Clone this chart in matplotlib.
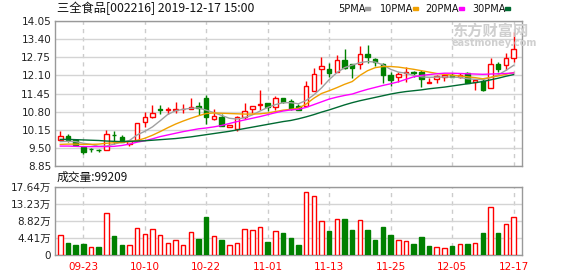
import numpy as np
import matplotlib.pyplot as plt

# 三全食品 daily K-line, 2019-09-18 .. 2019-12-17 (60 trading days)
opens = [9.78, 9.91, 9.78, 9.53, 9.45, 9.42, 9.43, 9.97, 9.90, 9.64,
         9.76, 10.44, 10.62, 10.89, 10.86, 10.86, 10.89, 10.91, 11.00, 11.29,
         10.55, 10.59, 10.25, 10.19, 10.62, 10.88, 11.03, 11.12, 10.98, 11.30,
         11.18, 11.00, 11.00, 11.55, 12.32, 12.33, 12.21, 12.65, 12.51, 12.51,
         12.87, 12.68, 12.51, 12.11, 12.03, 12.18, 12.21, 12.24, 11.84, 11.96,
         12.06, 12.11, 12.06, 12.20, 11.88, 11.91, 11.64, 12.52, 12.47, 12.71]
highs = [10.10, 10.00, 9.83, 9.53, 9.50, 9.47, 10.12, 10.10, 9.97, 9.79,
         10.40, 10.77, 11.02, 11.03, 10.95, 11.16, 11.06, 11.30, 11.16, 11.40,
         10.88, 10.71, 10.33, 10.64, 11.12, 11.00, 11.58, 11.12, 11.37, 11.30,
         11.27, 11.07, 11.90, 12.38, 12.77, 12.53, 12.83, 13.05, 12.51, 13.16,
         13.19, 12.74, 12.53, 12.23, 12.23, 12.39, 12.26, 12.30, 12.02, 12.12,
         12.12, 12.20, 12.18, 12.24, 11.94, 12.00, 12.71, 12.57, 12.89, 13.67]
lows = [9.78, 9.69, 9.56, 9.28, 9.33, 9.36, 9.41, 9.65, 9.72, 9.56,
        9.73, 10.26, 10.57, 10.70, 10.71, 10.74, 10.74, 10.91, 10.68, 10.37,
        10.49, 10.29, 10.23, 10.11, 10.52, 10.74, 10.86, 10.83, 10.86, 11.10,
        10.85, 10.85, 11.00, 11.55, 11.78, 12.05, 12.21, 12.32, 12.02, 12.32,
        12.53, 12.44, 11.84, 11.72, 11.88, 11.88, 12.05, 11.70, 11.84, 11.84,
        11.91, 12.05, 12.00, 11.84, 11.58, 11.55, 11.64, 12.24, 12.29, 12.59]
closes = [9.93, 9.79, 9.60, 9.36, 9.44, 9.41, 9.99, 9.96, 9.72, 9.75,
          10.40, 10.60, 10.74, 10.87, 10.88, 10.90, 10.91, 10.97, 10.94, 10.59,
          10.64, 10.29, 10.30, 10.59, 10.82, 11.00, 11.09, 10.98, 11.28, 11.14,
          10.91, 10.85, 11.73, 12.14, 12.44, 12.19, 12.64, 12.38, 12.36, 12.87,
          12.77, 12.57, 12.11, 11.94, 12.15, 12.21, 12.20, 11.96, 11.87, 12.08,
          12.11, 12.06, 12.11, 11.84, 11.94, 11.58, 12.50, 12.33, 12.74, 13.05]

# volume in 万 shares
volume = [5.14, 3.08, 2.57, 2.83, 1.97, 2.06, 10.79, 4.88, 2.57, 2.48,
          6.85, 5.31, 6.59, 5.05, 3.00, 3.85, 2.48, 5.82, 4.11, 9.76,
          4.80, 3.94, 2.48, 3.00, 6.59, 6.34, 7.11, 3.34, 6.17, 5.65,
          4.37, 2.57, 16.35, 15.33, 8.73, 6.17, 9.42, 9.25, 6.51, 9.16,
          6.51, 3.94, 7.19, 5.14, 3.85, 3.51, 2.83, 4.62, 2.31, 1.97,
          1.71, 2.31, 2.74, 2.83, 3.00, 5.65, 12.33, 5.65, 7.96, 9.9209]

# moving averages
ma5 = [9.72, 9.73, 9.72, 9.66, 9.62, 9.55, 9.56, 9.63, 9.70, 9.76,
       9.96, 10.09, 10.25, 10.47, 10.70, 10.83, 10.88, 10.92, 10.93, 10.85,
       10.76, 10.66, 10.56, 10.53, 10.58, 10.68, 10.82, 10.95, 11.05, 11.12,
       11.12, 11.08, 11.20, 11.40, 11.65, 11.95, 12.20, 12.38, 12.47, 12.56,
       12.60, 12.58, 12.48, 12.32, 12.22, 12.18, 12.10, 12.05, 12.03, 12.04,
       12.04, 12.04, 12.03, 11.98, 11.96, 11.95, 12.02, 12.12, 12.28, 12.46]
ma10 = [9.62, 9.63, 9.63, 9.62, 9.62, 9.63, 9.66, 9.68, 9.69, 9.72,
        9.76, 9.84, 9.95, 10.08, 10.22, 10.35, 10.46, 10.56, 10.65, 10.73,
        10.75, 10.74, 10.73, 10.72, 10.71, 10.71, 10.72, 10.75, 10.80, 10.85,
        10.88, 10.92, 11.07, 11.28, 11.45, 11.55, 11.66, 11.78, 11.88, 12.10,
        12.27, 12.38, 12.42, 12.42, 12.40, 12.36, 12.32, 12.27, 12.22, 12.17,
        12.14, 12.11, 12.08, 12.05, 12.02, 11.98, 12.03, 12.08, 12.14, 12.20]
ma20 = [9.56, 9.56, 9.55, 9.54, 9.54, 9.54, 9.54, 9.55, 9.58, 9.63,
        9.70, 9.75, 9.82, 9.90, 9.96, 10.02, 10.08, 10.13, 10.18, 10.21,
        10.25, 10.30, 10.37, 10.44, 10.50, 10.56, 10.62, 10.69, 10.76, 10.82,
        10.86, 10.88, 10.95, 11.05, 11.15, 11.25, 11.32, 11.38, 11.43, 11.52,
        11.60, 11.67, 11.74, 11.80, 11.87, 11.96, 12.05, 12.10, 12.13, 12.16,
        12.18, 12.18, 12.17, 12.16, 12.15, 12.14, 12.15, 12.16, 12.17, 12.19]
ma30 = [9.80, 9.80, 9.79, 9.78, 9.77, 9.76, 9.74, 9.73, 9.72, 9.73,
        9.74, 9.75, 9.77, 9.79, 9.81, 9.83, 9.86, 9.89, 9.93, 9.97,
        10.01, 10.05, 10.09, 10.14, 10.19, 10.24, 10.29, 10.34, 10.39, 10.44,
        10.48, 10.54, 10.61, 10.69, 10.78, 10.86, 10.95, 11.04, 11.12, 11.19,
        11.25, 11.31, 11.37, 11.43, 11.48, 11.52, 11.55, 11.58, 11.62, 11.65,
        11.68, 11.72, 11.76, 11.80, 11.84, 11.88, 11.94, 12.00, 12.07, 12.13]

date_labels = ['09-23', '10-10', '10-22', '11-01', '11-13', '11-25', '12-05', '12-17']
date_idx = [3, 11, 19, 27, 35, 43, 51, 59]

price_ticks = [8.85, 9.50, 10.15, 10.80, 11.45, 12.10, 12.75, 13.40, 14.05]
vol_ticks = [0, 4.41, 8.82, 13.23, 17.64]

RED = '#ff0000'
GREEN = '#008000'
MA_COLORS = ['#a0a0a0', '#f0a000', '#ff00ff', '#006a32']
GRID = '#d4d4d4'
FRAME = '#999999'
CJK = ['Noto Sans CJK SC', 'DejaVu Sans']
W, H = 578, 276

o = np.array(opens)
c = np.array(closes)
hi = np.array(highs)
lo = np.array(lows)
x = np.arange(len(o))
up = c >= o
prev = np.concatenate([[o[0]], c[:-1]])
vol_up = c >= prev

fig = plt.figure(figsize=(W / 100, H / 100), dpi=100)
fig.patch.set_facecolor('white')

def px(xp, yp):
    return xp / W, 1 - yp / H

ax = fig.add_axes([55.3 / W, 1 - 165.8 / H, (522 - 55.3) / W, (165.8 - 21.2) / H])
axv = fig.add_axes([55.3 / W, 1 - 255 / H, (522 - 55.3) / W, (255 - 186.7) / H])

for a in (ax, axv):
    a.set_xlim(-0.65, 60.1)
    for s in a.spines.values():
        s.set_color(FRAME)
        s.set_linewidth(1)
    a.set_xticks(date_idx)
    a.tick_params(axis='both', length=0, labelsize=7.5, colors='#222222', pad=3)
    a.grid(axis='y', color=GRID, linewidth=1, linestyle='-')
    a.grid(axis='x', color='#cccccc', linewidth=1, linestyle=(0, (3, 3)))
    a.set_axisbelow(True)

# price panel
ax.set_ylim(8.85, 14.05)
ax.set_yticks(price_ticks)
ax.set_yticklabels(['%.2f' % t for t in price_ticks])
ax.set_xticklabels([])

wick_col = np.where(up, RED, GREEN)
ax.vlines(x, lo, hi, colors=wick_col, linewidth=1, zorder=2)
body_h = np.maximum(np.abs(c - o), 0.012)
ax.bar(x, body_h, bottom=np.minimum(o, c), width=0.58,
       color=np.where(up, 'white', GREEN), edgecolor=wick_col, linewidth=1, zorder=3)

for ma, col in zip([ma5, ma10, ma20, ma30], MA_COLORS):
    ax.plot(x, ma, color=col, linewidth=1, zorder=4)

# volume panel
axv.set_ylim(0, 17.64)
axv.set_yticks(vol_ticks)
axv.set_yticklabels(['0'] + ['%.2f万' % t for t in vol_ticks[1:]], family=['DejaVu Sans', 'Noto Sans CJK SC'])
axv.set_xticklabels(date_labels, color=RED)
axv.tick_params(axis='x', pad=5, labelcolor=RED)
vcol = np.where(vol_up, RED, GREEN)
axv.bar(x, volume, width=0.58, color=np.where(vol_up, 'white', GREEN),
        edgecolor=vcol, linewidth=1, zorder=3)

# header texts
fig.text(*px(57, 8.5), '三全食品[002216] 2019-12-17 15:00', family=CJK, fontsize=8.8,
         va='center', ha='left', color='#111111')
fig.text(*px(57, 177.5), '成交量:%d' % round(volume[-1] * 10000), family=CJK, fontsize=8.5,
         va='center', ha='left', color='#111111')

# legend
leg = [('5PMA', 338, 365), ('10PMA', 380, 413), ('20PMA', 425, 459), ('30PMA', 472, 505)]
for (name, tx, mx), col in zip(leg, MA_COLORS):
    fig.text(*px(tx, 8.5), name, fontsize=7, va='center', ha='left', color='#111111')
    fig.patches.append(plt.Rectangle(px(mx, 10), 5 / W, 3 / H, color=col,
                                     transform=fig.transFigure, figure=fig))

# watermark
fig.text(*px(452, 31), '东方财富网', family=CJK, fontsize=11, fontweight='bold',
         va='center', ha='left', color='#cfcfcf', zorder=0)
fig.text(*px(452, 43), 'eastmoney.com', fontsize=7, fontweight='bold',
         va='center', ha='left', color='#cfcfcf', zorder=0)

fig.savefig('out.png', dpi=100)
